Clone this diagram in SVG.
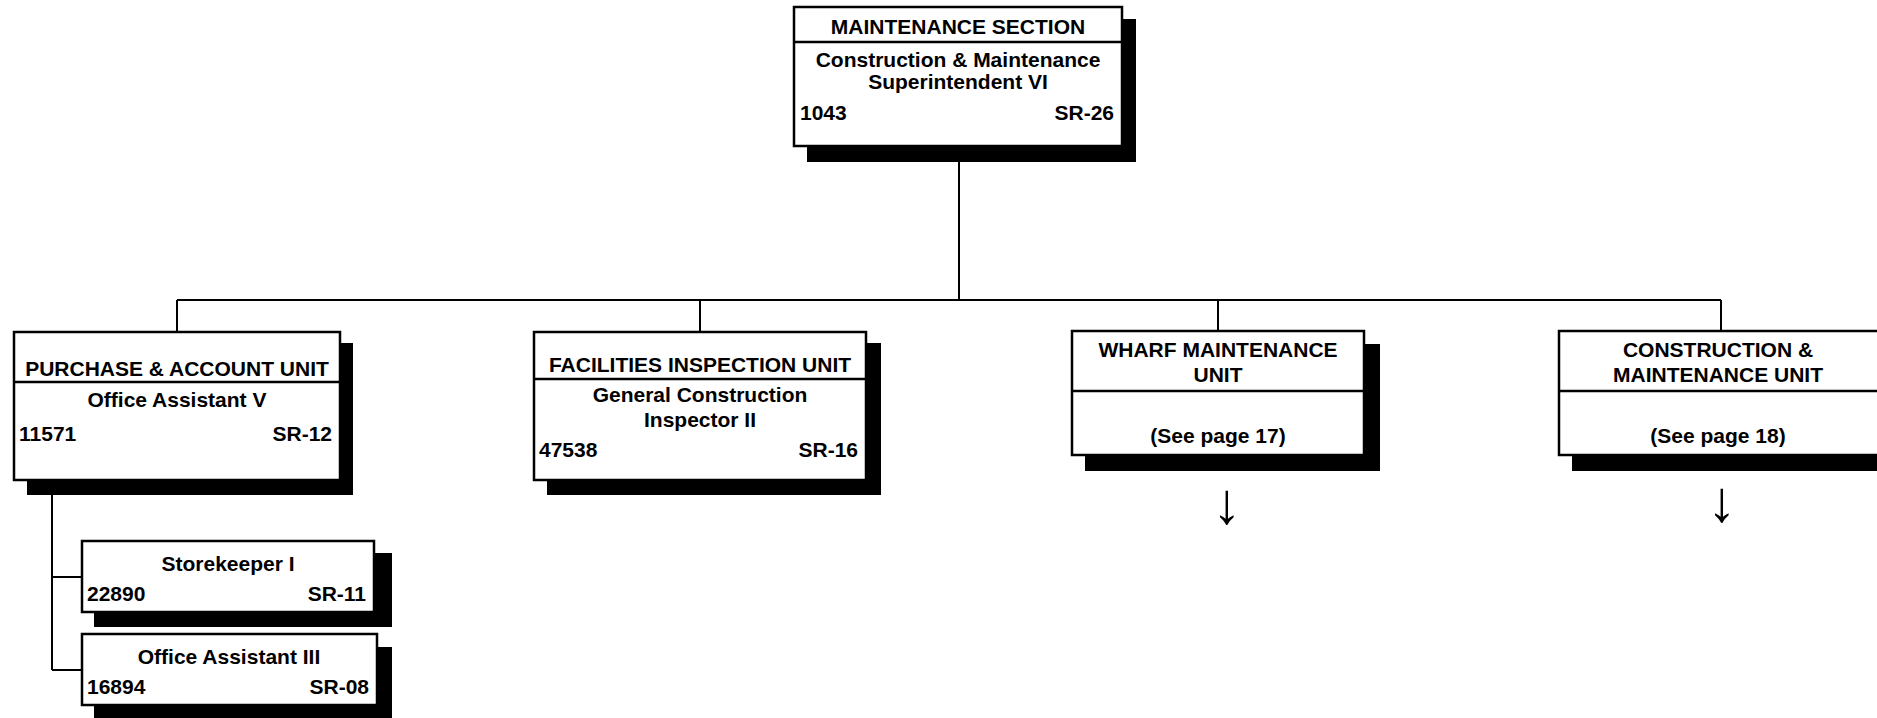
<svg xmlns="http://www.w3.org/2000/svg" width="1877" height="718" viewBox="0 0 1877 718">
<style>
.box{fill:#fff;stroke:#000;stroke-width:2.5}
.sh{fill:#000}
.div{stroke:#000;stroke-width:2.5}
.con line{stroke:#000;stroke-width:2}
text{font-family:"Liberation Sans",Arial,sans-serif;font-weight:bold;font-size:21px;fill:#000}
.c{text-anchor:middle}
.r{text-anchor:end}
.arr{font-family:"Liberation Sans",Arial,sans-serif;font-weight:normal;font-size:58px}
</style>
<rect width="1877" height="718" fill="#fff"/>
<g class="con" id="connectors">
<line x1="959" y1="146" x2="959" y2="300"/>
<line x1="177" y1="300" x2="1721" y2="300"/>
<line x1="177" y1="300" x2="177" y2="332"/>
<line x1="700" y1="300" x2="700" y2="332"/>
<line x1="1218" y1="300" x2="1218" y2="331"/>
<line x1="1721" y1="300" x2="1721" y2="331"/>
<line x1="52" y1="480" x2="52" y2="670"/>
<line x1="52" y1="577" x2="82" y2="577"/>
<line x1="52" y1="670" x2="82" y2="670"/>
</g>
<g id="maintenance-section">
<rect class="sh" x="807" y="19" width="329" height="143"/>
<rect class="box" x="794" y="7" width="328" height="139"/>
<line class="div" x1="794" y1="42" x2="1122" y2="42"/>
<text class="c" x="958" y="34">MAINTENANCE SECTION</text>
<text class="c" x="958" y="67">Construction &amp; Maintenance</text>
<text class="c" x="958" y="89">Superintendent VI</text>
<text x="800" y="120">1043</text>
<text class="r" x="1114" y="120">SR-26</text>
</g>
<g id="purchase-account-unit">
<rect class="sh" x="27" y="343" width="326" height="152"/>
<rect class="box" x="14" y="332" width="326" height="148"/>
<line class="div" x1="14" y1="382" x2="340" y2="382"/>
<text class="c" x="177" y="376">PURCHASE &amp; ACCOUNT UNIT</text>
<text class="c" x="177" y="407">Office Assistant V</text>
<text x="19" y="441">11571</text>
<text class="r" x="332" y="441">SR-12</text>
</g>
<g id="facilities-inspection-unit">
<rect class="sh" x="547" y="343" width="334" height="152"/>
<rect class="box" x="534" y="332" width="332" height="148"/>
<line class="div" x1="534" y1="379" x2="866" y2="379"/>
<text class="c" x="700" y="372">FACILITIES INSPECTION UNIT</text>
<text class="c" x="700" y="402">General Construction</text>
<text class="c" x="700" y="427">Inspector II</text>
<text x="539" y="457">47538</text>
<text class="r" x="858" y="457">SR-16</text>
</g>
<g id="wharf-maintenance-unit">
<rect class="sh" x="1085" y="344" width="295" height="127"/>
<rect class="box" x="1072" y="331" width="292" height="124"/>
<line class="div" x1="1072" y1="391" x2="1364" y2="391"/>
<text class="c" x="1218" y="357">WHARF MAINTENANCE</text>
<text class="c" x="1218" y="382">UNIT</text>
<text class="c" x="1218" y="443">(See page 17)</text>
<text class="c arr" x="1227" y="523">↓</text>
</g>
<g id="construction-maintenance-unit">
<rect class="sh" x="1572" y="344" width="320" height="127"/>
<rect class="box" x="1559" y="331" width="330" height="124"/>
<line class="div" x1="1559" y1="391" x2="1889" y2="391"/>
<text class="c" x="1718" y="357">CONSTRUCTION &amp;</text>
<text class="c" x="1718" y="382">MAINTENANCE UNIT</text>
<text class="c" x="1718" y="443">(See page 18)</text>
<text class="c arr" x="1722" y="521">↓</text>
</g>
<g id="storekeeper-i">
<rect class="sh" x="94" y="553" width="298" height="74"/>
<rect class="box" x="82" y="541" width="292" height="71"/>
<text class="c" x="228" y="571">Storekeeper I</text>
<text x="87" y="601">22890</text>
<text class="r" x="366" y="601">SR-11</text>
</g>
<g id="office-assistant-iii">
<rect class="sh" x="94" y="647" width="298" height="74"/>
<rect class="box" x="82" y="634" width="295" height="71"/>
<text class="c" x="229" y="664">Office Assistant III</text>
<text x="87" y="694">16894</text>
<text class="r" x="369" y="694">SR-08</text>
</g>
</svg>
